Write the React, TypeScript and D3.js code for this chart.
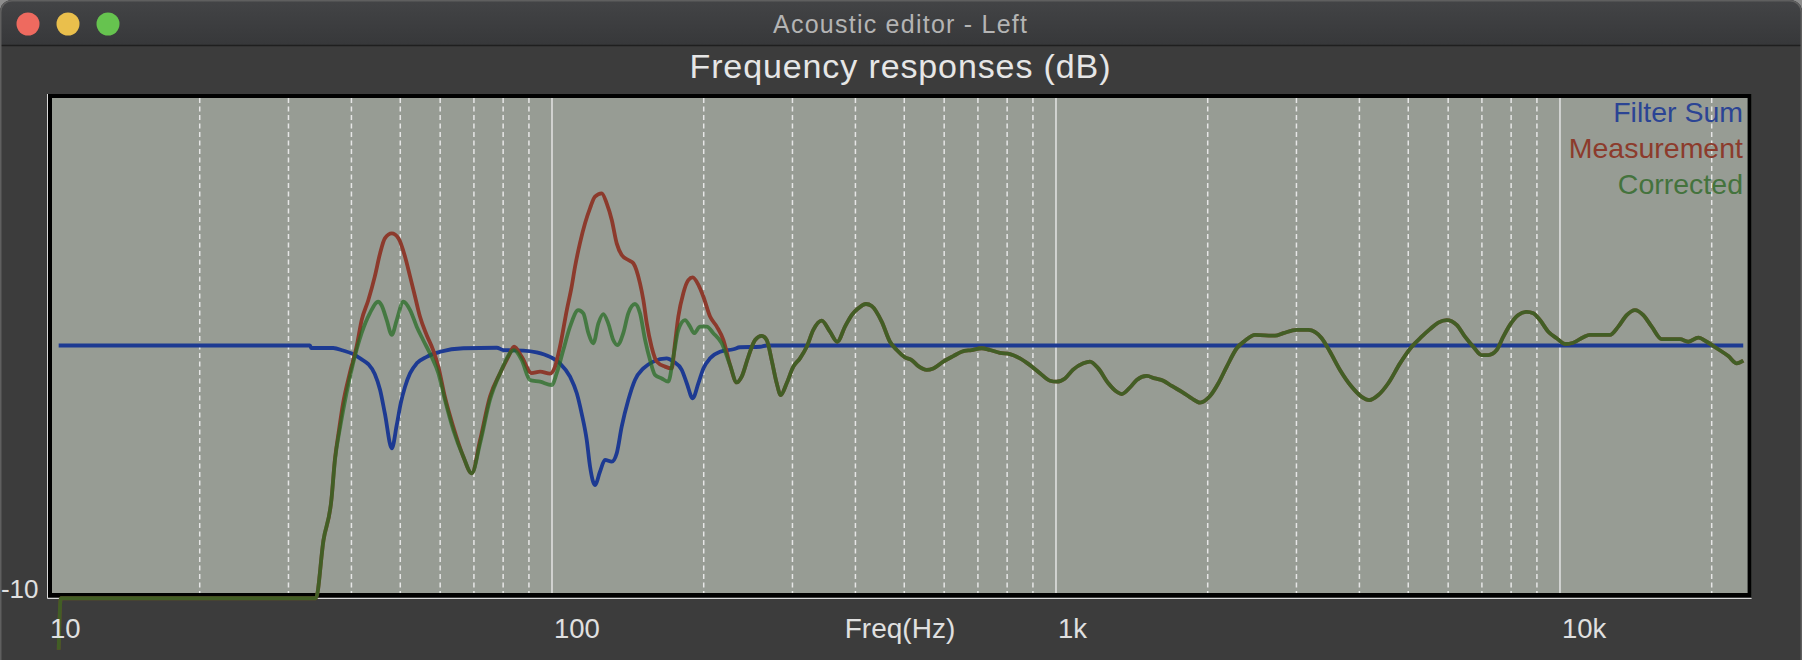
import React from 'react';
import * as d3 from 'd3';

type Pt = [number, number];

// ---- data (frequency Hz, level dB) ----
const filterSum: Pt[] = [
  [10.5, 0], [33.1, 0], [33.3, -0.1], [36.8, -0.1], [38.5, -0.2], [40.3, -0.34], [41.9, -0.55],
  [43.2, -0.74], [44.5, -1.13], [45.6, -1.77], [46.6, -2.7], [48.1, -4.09], [49.2, -3.16],
  [50.1, -2.3], [51.1, -1.64], [52.3, -1.1], [53.9, -0.71], [56.4, -0.45], [60.0, -0.25],
  [66.7, -0.11], [77.7, -0.09], [80.1, -0.18], [87.7, -0.2], [93.2, -0.27], [99.1, -0.45],
  [103.7, -0.71], [108.6, -1.24], [112.0, -1.9], [114.5, -2.7], [117.2, -3.76], [119.0, -4.82],
  [121.7, -5.55], [124.5, -5.02], [127.4, -4.55], [131.4, -4.62], [134.4, -4.29], [137.5, -3.23],
  [141.7, -2.17], [146.1, -1.37], [151.8, -0.91], [158.9, -0.64], [168.9, -0.51], [174.1, -0.64],
  [180.9, -0.97], [185.1, -1.5], [190.2, -2.1], [195.2, -1.5], [199.7, -0.91], [205.9, -0.51],
  [215.5, -0.25], [229.0, -0.15], [236.1, -0.07], [258.7, -0.05], [266.7, 0], [23100, 0],
];

const sharedLow: Pt[] = [
  [10.5, -12.1], [10.6, -10.05], [34.0, -10.05], [35.2, -7.75], [36.5, -6.14],
];

const measurementMid: Pt[] = [
  [37.1, -4.5], [37.7, -3.5], [38.5, -2.3], [39.7, -1.1], [41.0, 0], [41.9, 1.0], [43.2, 1.8],
  [44.5, 2.74], [45.6, 3.67], [46.6, 4.26], [48.1, 4.46], [49.6, 4.26], [51.1, 3.53], [52.3, 2.74],
  [53.5, 1.94], [54.7, 1.15], [56.4, 0.42], [58.1, -0.18], [59.5, -0.84], [61.3, -2.04],
  [63.7, -3.23], [66.7, -4.42], [69.3, -5.08], [72.0, -3.76], [75.3, -2.04], [78.9, -1.1],
  [81.9, -0.45], [84.1, -0.05], [87.1, -0.45], [91.1, -1.1], [94.7, -1.04], [99.1, -1.12],
  [101.4, -0.84], [103.7, -0.05], [107.0, 1.41], [109.4, 2.34], [111.1, 3.13], [113.6, 4.06],
  [116.3, 4.86], [119.0, 5.46], [121.7, 5.92], [125.5, 6.05], [128.4, 5.65], [131.4, 4.99],
  [134.4, 4.06], [137.5, 3.6], [141.7, 3.4], [145.0, 3.27], [149.5, 2.47], [151.8, 1.81],
  [154.2, 0.88], [157.6, -0.05], [161.4, -0.64], [167.6, -0.84], [172.8, -0.91], [175.4, 0.09],
  [178.1, 1.15], [182.2, 2.08], [186.4, 2.6], [190.2, 2.71], [195.2, 2.41], [199.7, 1.94],
  [205.9, 1.15], [212.3, 0.75], [218.8, 0.22],
];

const correctedMid: Pt[] = [
  [37.1, -4.55], [38.0, -3.23], [39.1, -1.9], [40.3, -0.71], [41.9, 0.49], [43.5, 1.28],
  [45.2, 1.74], [45.9, 1.6], [47.0, 1.01], [48.1, 0.42], [49.2, 1.01], [50.7, 1.74], [52.3, 1.41],
  [53.9, 0.75], [55.5, 0.22], [57.7, -0.45], [59.5, -1.1], [61.3, -2.15], [63.7, -3.36],
  [66.7, -4.42], [69.3, -5.08], [72.0, -3.89], [75.3, -2.17], [78.9, -1.1], [84.1, -0.18],
  [87.1, -0.58], [90.4, -1.37], [94.7, -1.44], [99.9, -1.57], [102.2, -1.1], [105.3, -0.18],
  [108.6, 0.75], [112.8, 1.41], [115.4, 1.28], [118.1, 0.49], [120.8, 0.09], [123.6, 0.88],
  [126.4, 1.25], [129.3, 0.88], [132.3, 0.22], [134.8, 0.02], [138.5, 0.49], [141.7, 1.28],
  [146.1, 1.65], [149.5, 1.28], [153.0, 0.22], [156.5, -0.58], [160.1, -1.17], [165.1, -1.31],
  [170.1, -1.44], [174.1, -0.45], [178.1, 0.62], [183.6, 1.01], [187.9, 0.75], [191.4, 0.49],
  [196.7, 0.75], [202.8, 0.75], [209.0, 0.49], [217.1, 0.09],
];

const sharedHigh: Pt[] = [
  [225.6, -0.78], [232.6, -1.47], [237.9, -1.24], [245.2, -0.45], [252.9, 0.22], [260.7, 0.38],
  [266.7, 0.22], [272.8, -0.58], [279.2, -1.5], [284.3, -1.97], [292.2, -1.5], [301.2, -0.84],
  [310.5, -0.51], [320.2, -0.05], [330.0, 0.62], [342.9, 0.99], [356.1, 0.55], [368.2, 0.15],
  [381.4, 0.75], [393.2, 1.21], [405.3, 1.48], [419.8, 1.65], [430.9, 1.57], [451.0, 0.95],
  [468.4, 0.15], [483.1, -0.18], [501.7, -0.47], [517.2, -0.58], [533.1, -0.82], [554.0, -0.97],
  [570.9, -0.91], [597.6, -0.64], [625.5, -0.42], [649.9, -0.25], [680.3, -0.18], [712.1, -0.11],
  [739.7, -0.18], [774.2, -0.29], [810.4, -0.34], [848.3, -0.51], [888.0, -0.78], [929.5, -1.1],
  [972.9, -1.4], [1003, -1.44], [1042, -1.31], [1080, -0.97], [1133, -0.71], [1168, -0.64],
  [1213, -0.91], [1270, -1.5], [1320, -1.84], [1350, -1.93], [1402, -1.67], [1446, -1.37],
  [1514, -1.21], [1572, -1.31], [1633, -1.4], [1697, -1.61], [1790, -1.88], [1859, -2.1],
  [1931, -2.27], [2021, -2.01], [2100, -1.5], [2182, -0.84], [2284, -0.11], [2372, 0.19],
  [2483, 0.42], [2720, 0.39], [2826, 0.49], [3003, 0.62], [3167, 0.62], [3367, 0.29],
  [3497, -0.25], [3660, -0.97], [3861, -1.64], [4042, -2.04], [4185, -2.17], [4361, -1.97],
  [4564, -1.5], [4815, -0.71], [5079, -0.05], [5316, 0.35], [5522, 0.65], [5735, 0.91],
  [5960, 1.01], [6238, 0.82], [6479, 0.35], [6731, -0.05], [6993, -0.38], [7207, -0.38],
  [7489, -0.18], [7719, 0.35], [7958, 0.82], [8266, 1.21], [8589, 1.34], [8852, 1.28],
  [9127, 1.01], [9480, 0.55], [9850, 0.29], [10231, 0.06], [10627, 0.11], [11124, 0.33],
  [11470, 0.42], [12567, 0.42], [13052, 0.75], [13564, 1.21], [14088, 1.41], [14633, 1.21],
  [15206, 0.75], [15916, 0.25], [17305, 0.25], [17973, 0.15], [18813, 0.31], [19550, 0.15],
  [20464, -0.11], [21577, -0.42], [22422, -0.71], [23109, -0.6],
];

const measurement: Pt[] = [...sharedLow, ...measurementMid, ...sharedHigh];
const corrected: Pt[] = [...sharedLow, ...correctedMid, ...sharedHigh];

const majorTicks = [10, 100, 1000, 10000];
const majorLabels = ['10', '100', '1k', '10k'];
const minorTicks = [
  20, 30, 40, 50, 60, 70, 80, 90,
  200, 300, 400, 500, 600, 700, 800, 900,
  2000, 3000, 4000, 5000, 6000, 7000, 8000, 9000,
  20000,
];
const yLabelValue = -10;
const yLabelText = '-10';

const legendNames = ['Filter Sum', 'Measurement', 'Corrected'];
const legendColors = ['#2b4494', '#8c3b2c', '#44733d'];

const FONT = "'Liberation Sans', Arial, Helvetica, sans-serif";

export default function App() {
  const x = d3.scaleLog().domain([10, 24000]).range([48, 1751.6]);
  const y = d3.scaleLinear().domain([-10, 10]).range([597, 94]);
  const line = d3
    .line<Pt>()
    .x((d) => x(d[0]))
    .y((d) => y(d[1]))
    .curve(d3.curveMonotoneX);

  const plotL = x(10);
  const plotR = x(24000);
  const plotT = y(10);
  const plotB = y(-10);

  return (
    <div style={{ position: 'absolute', left: 0, top: 0 }}>
      <svg width={1802} height={660} style={{ display: 'block' }}>
        <defs>
          <linearGradient id="tb" x1="0" y1="0" x2="0" y2="1">
            <stop offset="0" stopColor="#434446" />
            <stop offset="1" stopColor="#37383a" />
          </linearGradient>
        </defs>
        <rect x={0} y={0} width={1802} height={660} fill="#8d8d8d" />
        <path d="M0,660 V12 A12,12 0 0 1 12,0 H1790 A12,12 0 0 1 1802,12 V660 Z" fill="#3c3c3c" />
        <path d="M0,45 V12 A12,12 0 0 1 12,0 H1790 A12,12 0 0 1 1802,12 V45 Z" fill="url(#tb)" />
        <line x1={0} x2={1802} y1={45.5} y2={45.5} stroke="#1f1f1f" strokeWidth={1.5} />
        <path
          d="M0.75,660 V12 A11.25,11.25 0 0 1 12,0.75 H1790 A11.25,11.25 0 0 1 1801.25,12 V660"
          fill="none"
          stroke="#5f5f5f"
          strokeWidth={1.5}
        />
        <circle cx={28} cy={24} r={11.5} fill="#ee6a5f" />
        <circle cx={68} cy={24} r={11.5} fill="#eabf4c" />
        <circle cx={108} cy={24} r={11.5} fill="#66c34f" />
        <text x={900} y={33} textAnchor="middle" fontFamily={FONT} fontSize={25} fill="#b4b4b4" textLength={254}>
          Acoustic editor - Left
        </text>

        <text x={900} y={78} textAnchor="middle" fontFamily={FONT} fontSize={34} fill="#e6e6e6" textLength={421}>
          Frequency responses (dB)
        </text>

        {/* plot area */}
        <rect x={plotL} y={plotT} width={plotR - plotL} height={plotB - plotT} fill="#979c94" />
        {minorTicks.map((t) => (
          <line
            key={'m' + t}
            x1={x(t)}
            x2={x(t)}
            y1={plotT + 4}
            y2={plotB - 4}
            stroke="#e6e6e6"
            strokeWidth={1.5}
            strokeDasharray="5,3.5"
          />
        ))}
        {majorTicks.slice(1).map((t) => (
          <line key={'M' + t} x1={x(t)} x2={x(t)} y1={plotT + 4} y2={plotB - 4} stroke="#e4e4e4" strokeWidth={1.5} />
        ))}
        <rect
          x={plotL + 2}
          y={plotT + 2}
          width={plotR - plotL - 4}
          height={plotB - plotT - 4}
          fill="none"
          stroke="#000"
          strokeWidth={4}
        />
        <line x1={plotL - 0.5} x2={plotL - 0.5} y1={plotT} y2={plotB + 1.5} stroke="#d8d8d8" strokeWidth={1} />
        <line x1={plotL - 0.5} x2={plotR} y1={plotB + 1.5} y2={plotB + 1.5} stroke="#d8d8d8" strokeWidth={1} />

        {/* curves */}
        <path d={line(filterSum) || ''} fill="none" stroke="#1d3a92" strokeWidth={3.8} strokeLinejoin="round" />
        <path d={line(measurement) || ''} fill="none" stroke="#8c3a2c" strokeWidth={3.8} strokeLinejoin="round" />
        <path
          d={line(corrected) || ''}
          fill="none"
          stroke="rgb(38,108,34)"
          strokeOpacity={0.72}
          strokeWidth={3.8}
          strokeLinejoin="round"
        />

        {/* legend */}
        {legendNames.map((n, i) => (
          <text
            key={n}
            x={1743}
            y={122 + i * 35.8}
            textAnchor="end"
            fontFamily={FONT}
            fontSize={28.5}
            fill={legendColors[i]}
          >
            {n}
          </text>
        ))}

        {/* axes labels */}
        {majorTicks.map((t, i) => (
          <text key={'l' + t} x={x(t) + 2} y={638} fontFamily={FONT} fontSize={27.5} fill="#e0e0e0">
            {majorLabels[i]}
          </text>
        ))}
        <text x={900} y={638} textAnchor="middle" fontFamily={FONT} fontSize={28} fill="#e0e0e0">
          Freq(Hz)
        </text>
        <text x={38.5} y={y(yLabelValue) + 1} textAnchor="end" fontFamily={FONT} fontSize={26} fill="#e0e0e0">
          {yLabelText}
        </text>
      </svg>
    </div>
  );
}
